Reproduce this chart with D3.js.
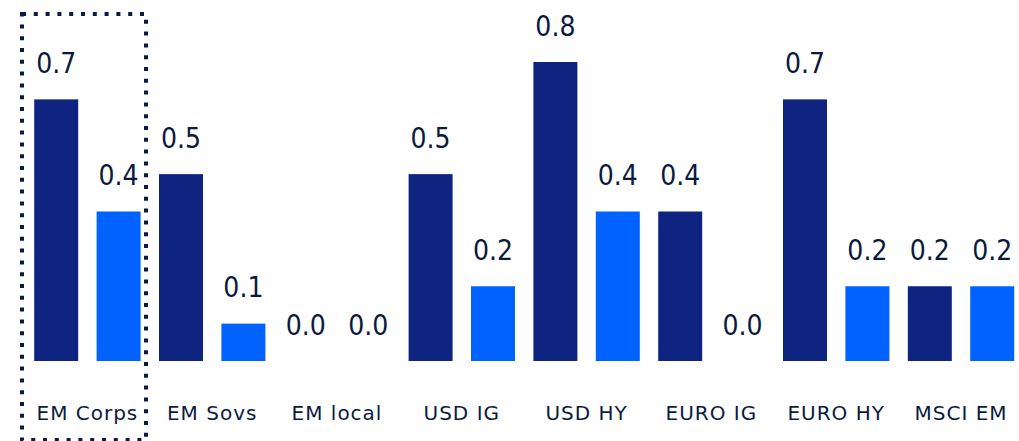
<!DOCTYPE html>
<html>
<head>
<meta charset="utf-8">
<script src="https://cdn.jsdelivr.net/npm/d3@7"></script>
<style>
  html, body { margin: 0; padding: 0; background: #fff; }
  svg { display: block; }
</style>
</head>
<body>
<div id="chart"></div>
<script>
// data
const categories = ["EM Corps", "EM Sovs", "EM local", "USD IG", "USD HY", "EURO IG", "EURO HY", "MSCI EM"];
const seriesNames = ["s1", "s2"];
const series1 = [0.7, 0.5, 0.0, 0.5, 0.8, 0.4, 0.7, 0.2];
const series2 = [0.4, 0.1, 0.0, 0.2, 0.4, 0.0, 0.2, 0.2];
const highlighted = "EM Corps";

const colors = ["#0e2480", "#0062ff"];
const textColor = "#0b1a40";

const width = 1019, height = 441;
const baseline = 361;

const rows = categories.map((c, i) => ({ cat: c, vals: [series1[i], series2[i]] }));

const svg = d3.select("#chart").append("svg")
    .attr("width", width)
    .attr("height", height);

// group scale: each group is 124.8px wide
const x0 = d3.scaleBand()
    .domain(categories)
    .range([25, 25 + 124.8 * categories.length])
    .padding(0);

const x1 = d3.scaleBand()
    .domain(seriesNames)
    .range([0, x0.bandwidth()])
    .paddingInner(0.295)
    .paddingOuter(0.1475);

const y = d3.scaleLinear()
    .domain([0, 0.8])
    .range([baseline, 62]);

const groups = svg.selectAll(".grp")
    .data(rows)
    .enter()
    .append("g")
    .attr("class", "grp")
    .attr("transform", d => `translate(${x0(d.cat)},0)`);

const bars = groups.selectAll("rect")
    .data(d => d.vals.map((v, j) => ({ key: seriesNames[j], v: v, j: j })))
    .enter();

bars.append("rect")
    .attr("x", d => x1(d.key))
    .attr("y", d => y(d.v))
    .attr("width", x1.bandwidth())
    .attr("height", d => baseline - y(d.v))
    .attr("fill", d => colors[d.j]);

// value labels above the bars
bars.append("text")
    .attr("x", d => x1(d.key) + x1.bandwidth() / 2)
    .attr("y", d => y(d.v) - 26.5)
    .attr("text-anchor", "middle")
    .style("font-family", "'DejaVu Sans Condensed', 'DejaVu Sans', sans-serif")
    .style("font-stretch", "condensed")
    .style("font-size", "28px")
    .attr("fill", textColor)
    .text(d => d3.format(".1f")(d.v));

// category labels
groups.append("text")
    .attr("x", x0.bandwidth() / 2)
    .attr("y", 420)
    .attr("text-anchor", "middle")
    .style("font-family", "'DejaVu Sans', Verdana, sans-serif")
    .style("font-size", "20px")
    .style("letter-spacing", "1px")
    .attr("fill", textColor)
    .text(d => d.cat);

// dotted box around the highlighted group
svg.append("rect")
    .attr("x", x0(highlighted) - 3)
    .attr("y", 14)
    .attr("width", 124)
    .attr("height", 426)
    .attr("fill", "none")
    .attr("stroke", "#0b1a40")
    .attr("stroke-width", 4)
    .attr("stroke-dasharray", "4,7.8");
</script>
</body>
</html>
